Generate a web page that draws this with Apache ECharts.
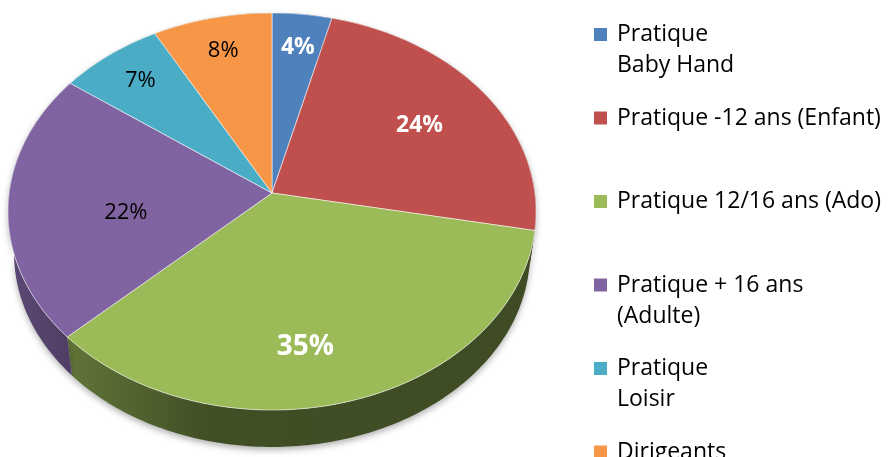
<!DOCTYPE html>
<html>
<head>
<meta charset="utf-8">
<script src="https://cdn.jsdelivr.net/npm/echarts@6/dist/echarts.min.js"></script>
<style>
  html, body { margin: 0; padding: 0; background: #fff; }
  #chart { width: 888px; height: 457px; }
</style>
</head>
<body>
<div id="chart"></div>
<script>
var categories = ['Pratique\nBaby Hand', 'Pratique -12 ans (Enfant)', 'Pratique 12/16 ans (Ado)',
  'Pratique + 16 ans\n(Adulte)', 'Pratique\nLoisir', 'Dirigeants'];
var values = [4, 24, 35, 22, 7, 8];
var colors = ['#4F81BD', '#C0504D', '#9BBB59', '#8064A2', '#4BACC6', '#F79646'];

// label placement: fraction of radius and small nudge (degrees)
var labelRadius = [0.8, 0.68, 0.74, 0.56, 0.8, 0.8];
var labelTurn = [0.4, 0.9, 7, -6.8, 0, 0];
var labelColors = ['#fff', '#fff', '#fff', '#000', '#000', '#000'];
var labelSizes = [23, 23, 28, 22, 22, 22];
var labelWeights = ['bold', 'bold', 'bold', 'normal', 'normal', 'normal'];

// 3d pie projection
var CX = 272, CY = 193, RX = 262.9, RY = 196.8, K = 0.0932;
var VY = 2017, SHRINK = 0.977;
var FONT = '"Open Sans", "Liberation Sans", sans-serif';

var total = values.reduce(function (a, b) { return a + b; }, 0);
var starts = [];
var acc = 0;
for (var i = 0; i < values.length; i++) {
  starts.push(acc / total * 2 * Math.PI);
  acc += values[i];
}

function proj(theta, r) {
  var s = Math.sin(theta), c = Math.cos(theta);
  var d = 1 + K * r * c;
  return [CX + RX * r * s / d, CY - RY * r * c / d];
}
function lower(p) {
  return [CX + SHRINK * (p[0] - CX), VY + SHRINK * (p[1] - VY)];
}
function arc(a0, a1) {
  var n = Math.max(2, Math.ceil((a1 - a0) / (Math.PI / 180)));
  var pts = [];
  for (var j = 0; j <= n; j++) pts.push(proj(a0 + (a1 - a0) * j / n, 1));
  return pts;
}
function shade(hex, f) {
  var n = parseInt(hex.slice(1), 16);
  var r = Math.round(((n >> 16) & 255) * f);
  var g = Math.round(((n >> 8) & 255) * f);
  var b = Math.round((n & 255) * f);
  return 'rgb(' + r + ',' + g + ',' + b + ')';
}

var series = [];

// sides of the pie, drawn under the top faces
series.push({
  type: 'custom',
  name: 'sides',
  coordinateSystem: 'none',
  z: 1,
  silent: true,
  data: values,
  renderItem: function (params, api) {
    var idx = params.dataIndex;
    var a0 = starts[idx];
    var a1 = a0 + api.value(0) / total * 2 * Math.PI;
    var top = arc(a0, a1);
    var bottom = top.map(lower).reverse();
    var col = colors[idx];
    return {
      type: 'polygon',
      shape: { points: top.concat(bottom) },
      style: {
        fill: new echarts.graphic.LinearGradient(8, 0, 536, 0, [
          { offset: 0, color: shade(col, 0.72) },
          { offset: 0.12, color: shade(col, 0.62) },
          { offset: 0.38, color: shade(col, 0.42) },
          { offset: 1, color: shade(col, 0.4) }
        ], true),
        shadowBlur: 6,
        shadowOffsetY: 3,
        shadowColor: 'rgba(0,0,0,0.3)'
      }
    };
  }
});

categories.forEach(function (name, i) {
  series.push({
    type: 'custom',
    name: name,
    coordinateSystem: 'none',
    z: 2,
    itemStyle: { color: colors[i] },
    data: [values[i]],
    renderItem: function (params, api) {
      var a0 = starts[i];
      var a1 = a0 + api.value(0) / total * 2 * Math.PI;
      var mid = (a0 + a1) / 2 + labelTurn[i] * Math.PI / 180;
      var lp = proj(mid, labelRadius[i]);
      return {
        type: 'group',
        children: [{
          type: 'polygon',
          shape: { points: [[CX, CY]].concat(arc(a0, a1)) },
          style: { fill: colors[i], stroke: 'rgba(255,255,255,0.55)', lineWidth: 1 }
        }, {
          type: 'text',
          z2: 10,
          style: {
            x: lp[0], y: lp[1],
            text: Math.round(values[i] / total * 100) + '%',
            align: 'center', verticalAlign: 'middle',
            fill: labelColors[i],
            fontSize: labelSizes[i],
            fontWeight: labelWeights[i],
            fontFamily: FONT
          }
        }]
      };
    }
  });
});

// one legend block per item, icons 83.5px apart, aligned with the first text line
// (two-line names get a blank line on top so the icon sits beside the first line)
var legends = categories.map(function (name, i) {
  var lines = name.split('\n').length;
  var multi = lines > 1;
  var h = (lines + (multi ? 1 : 0)) * 31;
  var iconY = 34.5 + 83.5 * i;
  return {
    data: [name],
    left: 594,
    top: iconY - h / 2,
    padding: 0,
    icon: 'rect',
    itemWidth: 13,
    itemHeight: 13,
    selectedMode: false,
    formatter: function (n) { return multi ? ' \n' + n : n; },
    textStyle: {
      fontFamily: FONT,
      fontSize: 23,
      lineHeight: 31,
      color: '#000',
      padding: [0, 0, 0, 5]
    }
  };
});

var chart = echarts.init(document.getElementById('chart'));
chart.setOption({
  animation: false,
  backgroundColor: '#fff',
  legend: legends,
  series: series
});
</script>
</body>
</html>
